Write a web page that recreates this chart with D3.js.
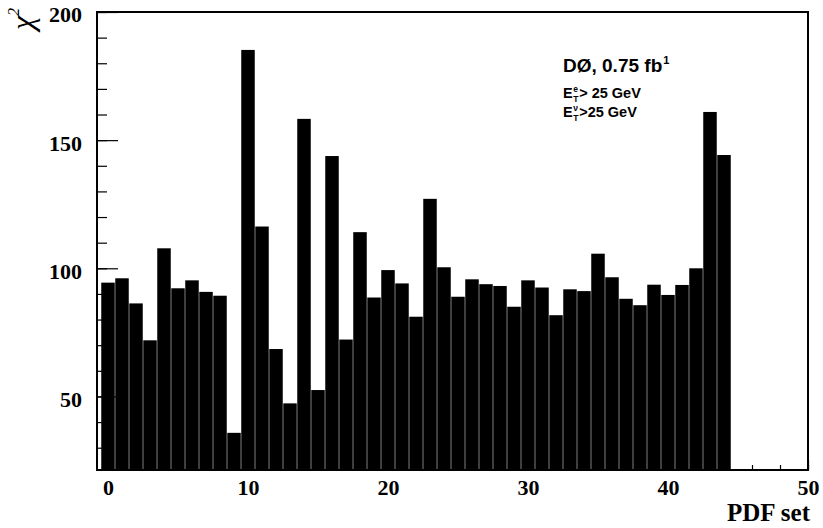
<!DOCTYPE html>
<html>
<head>
<meta charset="utf-8">
<script src="https://cdn.jsdelivr.net/npm/d3@7"></script>
<style>
    body { margin: 0; background: #ffffff; }
    .tick text { font-family: "Liberation Serif", "DejaVu Serif", serif; font-weight: bold; }
</style>
</head>
<body>
<div id="chart"></div>
<script>
    // PDF set index for every bin
    var pdfSet = [0, 1, 2, 3, 4, 5, 6, 7, 8, 9,
        10, 11, 12, 13, 14, 15, 16, 17, 18, 19,
        20, 21, 22, 23, 24, 25, 26, 27, 28, 29,
        30, 31, 32, 33, 34, 35, 36, 37, 38, 39,
        40, 41, 42, 43, 44];

    // chi2
    var chi2 = [94.4, 96.1, 86.3, 71.9, 107.8, 92.2, 95.3, 90.8, 89.3, 35.8,
        185.2, 116.3, 68.5, 47.3, 158.3, 52.5, 143.8, 72.2, 114.1, 88.6,
        99.3, 94.1, 81.1, 127.1, 100.4, 88.9, 95.7, 93.8, 93.1, 85.0,
        95.3, 92.5, 81.7, 91.8, 91.1, 105.7, 96.5, 88.1, 85.6, 93.6,
        89.6, 93.5, 100.0, 161.0, 144.2];

    var yMajorTicks = [50, 100, 150, 200];
    var xMajorTicks = [0, 10, 20, 30, 40, 50];

    var width = 823,
        height = 528;
    var margin = { top: 12, right: 15, bottom: 58, left: 97 };

    var x = d3.scaleLinear()
        .domain([-0.786, 50])
        .range([margin.left, width - margin.right]);

    var y = d3.scaleLinear()
        .domain([21.3, 200])
        .range([height - margin.bottom, margin.top]);

    var svg = d3.select("#chart").append("svg")
        .attr("width", width)
        .attr("height", height);

    // y axis: minor ticks every 10, long major ticks with labels
    svg.append("g")
        .attr("transform", "translate(" + margin.left + ",0)")
        .call(d3.axisLeft(y).tickValues(y.ticks(20)).tickSize(-10).tickFormat(""))
        .call(function(g) { g.select(".domain").remove(); });

    var yMajor = svg.append("g")
        .attr("transform", "translate(" + margin.left + ",0)")
        .call(d3.axisLeft(y).tickValues(yMajorTicks).tickSize(-21).tickPadding(15).tickFormat(d3.format("d")));
    yMajor.select(".domain").remove();
    yMajor.selectAll("text").attr("font-size", 22).attr("dy", "0.45em").attr("fill", "#000");

    // x axis
    svg.append("g")
        .attr("transform", "translate(0," + (height - margin.bottom) + ")")
        .call(d3.axisBottom(x).tickValues(x.ticks(25)).tickSize(-5).tickFormat(""))
        .call(function(g) { g.select(".domain").remove(); });

    var xMajor = svg.append("g")
        .attr("transform", "translate(0," + (height - margin.bottom) + ")")
        .call(d3.axisBottom(x).tickValues(xMajorTicks).tickSize(-10).tickPadding(9.4).tickFormat(d3.format("d")));
    xMajor.select(".domain").remove();
    xMajor.selectAll("text").attr("font-size", 22).attr("fill", "#000");

    svg.selectAll(".tick line").attr("stroke", "#000").attr("stroke-width", 1.2);

    // histogram bars (thin grey seams between bins)
    svg.append("g").selectAll("rect")
        .data(chi2)
        .enter().append("rect")
        .attr("x", function(d, i) { return x(pdfSet[i] - 0.5) + 0.25; })
        .attr("width", function(d, i) { return x(pdfSet[i] + 0.5) - x(pdfSet[i] - 0.5) - 0.5; })
        .attr("y", function(d) { return y(d); })
        .attr("height", function(d) { return y.range()[0] - y(d); })
        .attr("fill", "#000");

    // frame
    svg.append("rect")
        .attr("x", margin.left)
        .attr("y", margin.top)
        .attr("width", width - margin.left - margin.right)
        .attr("height", height - margin.top - margin.bottom)
        .attr("fill", "none")
        .attr("stroke", "#000")
        .attr("stroke-width", 2);

    // axis titles
    svg.append("text")
        .attr("x", width - margin.right + 2)
        .attr("y", 521)
        .attr("text-anchor", "end")
        .attr("font-family", "Liberation Serif, serif")
        .attr("font-weight", "bold")
        .attr("font-size", 25)
        .text("PDF set");

    var yTitle = svg.append("text")
        .attr("transform", "translate(33,8) rotate(-90)")
        .attr("text-anchor", "end")
        .attr("font-family", "Liberation Serif, serif")
        .attr("font-style", "italic")
        .attr("font-size", 32);
    yTitle.append("tspan").text("χ");
    yTitle.append("tspan").attr("font-size", 16).attr("dy", -14).text("2");

    // annotation
    var sans = "Liberation Sans, Arial, sans-serif";
    var ax = 563;

    var line1 = svg.append("text")
        .attr("x", ax)
        .attr("y", 72)
        .attr("font-family", sans)
        .attr("font-weight", "bold")
        .attr("font-size", 19);
    line1.append("tspan").text("DØ, 0.75 fb");
    line1.append("tspan").attr("font-size", 11).attr("dy", -8).attr("dx", 1).text("1");

    function etLine(yBase, sup, rest) {
        var e = svg.append("text")
            .attr("x", ax)
            .attr("y", yBase)
            .attr("font-family", sans)
            .attr("font-weight", "bold")
            .attr("font-size", 14.5)
            .text("E");
        var ex = ax + e.node().getComputedTextLength() + 0.5;
        svg.append("text")
            .attr("x", ex)
            .attr("y", yBase - 6)
            .attr("font-family", sans)
            .attr("font-weight", "bold")
            .attr("font-size", 8.5)
            .text(sup);
        svg.append("text")
            .attr("x", ex)
            .attr("y", yBase + 3.5)
            .attr("font-family", sans)
            .attr("font-weight", "bold")
            .attr("font-size", 8.5)
            .text("T");
        svg.append("text")
            .attr("x", ex + 6)
            .attr("y", yBase)
            .attr("font-family", sans)
            .attr("font-weight", "bold")
            .attr("font-size", 14.5)
            .text(rest);
    }

    etLine(98, "e", " > 25 GeV");
    etLine(117, "ν", ">25 GeV");
</script>
</body>
</html>
